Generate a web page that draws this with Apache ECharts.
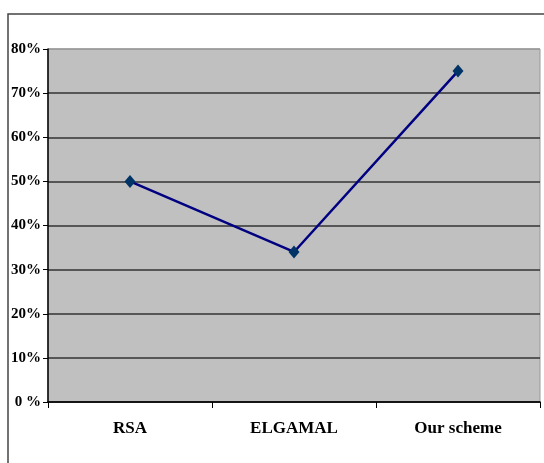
<!DOCTYPE html>
<html>
<head>
<meta charset="utf-8">
<script src="https://cdn.jsdelivr.net/npm/echarts@6/dist/echarts.min.js"></script>
<style>
  html, body { margin: 0; padding: 0; background: #fff; }
  #chart { width: 544px; height: 463px; }
</style>
</head>
<body>
<div id="chart"></div>
<script>
// 数据
const categories = ['RSA', 'ELGAMAL', 'Our scheme'];
const values = [50, 34, 75];
const yTickLabels = ['0 %', '10%', '20%', '30%', '40%', '50%', '60%', '70%', '80%'];

const chart = echarts.init(document.getElementById('chart'));

// 网格线：最上面一条是浅灰边框
const gridColors = yTickLabels.map((t, i) => i === yTickLabels.length - 1 ? '#999' : '#333');

const option = {
    backgroundColor: '#fff',
    animation: false,
    graphic: [{
        type: 'polyline',
        shape: { points: [[8, 470], [8, 14], [550, 14]] },
        style: { stroke: '#444', lineWidth: 1.5, fill: null }
    }],
    grid: {
        left: 48,
        right: 4,
        top: 49,
        bottom: 61,
        show: true,
        backgroundColor: '#c0c0c0',
        borderColor: '#999',
        borderWidth: 1
    },
    xAxis: {
        type: 'category',
        data: categories,
        boundaryGap: true,
        axisLine: { lineStyle: { color: '#000', width: 1.5 } },
        axisTick: { show: true, length: 6, lineStyle: { color: '#000' } },
        axisLabel: {
            margin: 18,
            color: '#000',
            fontFamily: 'Liberation Serif',
            fontWeight: 'bold',
            fontSize: 17
        }
    },
    yAxis: {
        type: 'value',
        min: 0,
        max: 80,
        interval: 10,
        axisLine: { show: true, lineStyle: { color: '#000', width: 1.5 } },
        axisTick: { show: true, length: 5, lineStyle: { color: '#000' } },
        axisLabel: {
            margin: 7,
            color: '#000',
            fontFamily: 'Liberation Serif',
            fontWeight: 'bold',
            fontSize: 15,
            formatter: (v) => yTickLabels[Math.round(v / 10)]
        },
        splitLine: { show: true, lineStyle: { color: gridColors, width: 1.5 } }
    },
    series: [{
        type: 'line',
        data: values,
        symbol: 'diamond',
        symbolSize: [11, 13],
        lineStyle: { color: '#000080', width: 2.5 },
        itemStyle: { color: '#003366' }
    }]
};

chart.setOption(option);
</script>
</body>
</html>
